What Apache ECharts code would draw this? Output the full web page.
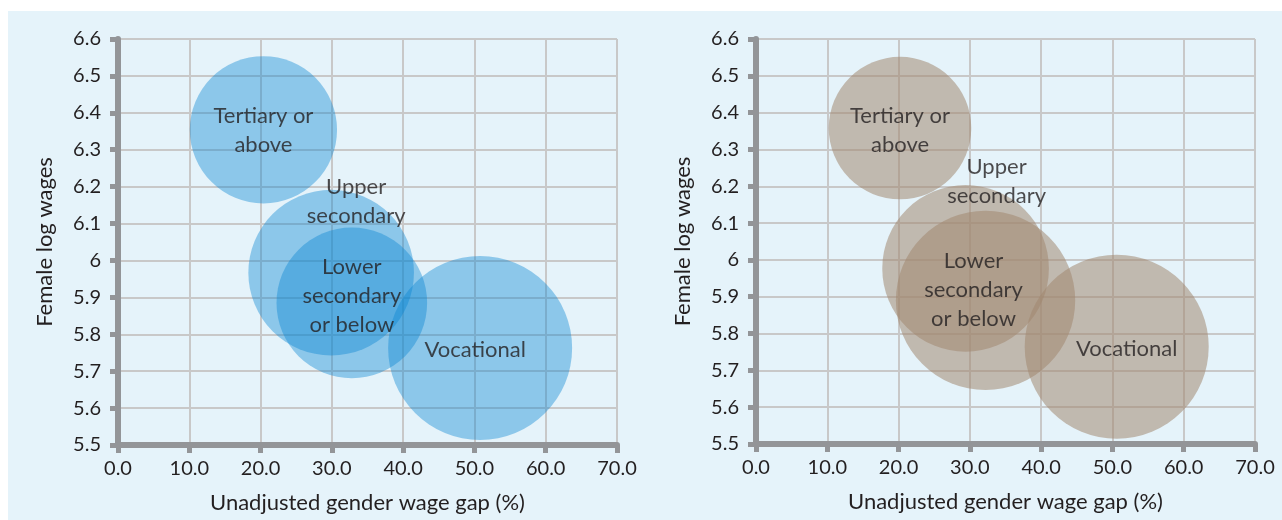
<!DOCTYPE html>
<html>
<head>
<meta charset="utf-8">
<script src="https://cdn.jsdelivr.net/npm/echarts@6/dist/echarts.min.js"></script>
<style>
  html, body { margin: 0; padding: 0; background: #ffffff; }
  #chart { width: 1282px; height: 520px; }
</style>
</head>
<body>
<div id="chart"></div>
<script>
// 数据
const categories = ['Tertiary or\nabove', 'Upper\nsecondary', 'Lower\nsecondary\nor below', 'Vocational'];
// left panel
const leftGap = [20.4, 29.9, 32.8, 50.8];
const leftWage = [6.354, 5.967, 5.885, 5.763];
const leftSize = [64, 81, 67, 100];
// right panel
const rightGap = [20.2, 29.4, 32.2, 50.6];
const rightWage = [6.358, 5.977, 5.89, 5.764];
const rightSize = [60, 82, 95, 100];
// axes
const xMin = 0, xMax = 70, xStep = 10;
const yMin = 5.5, yMax = 6.6, yStep = 0.1;
const xName = 'Unadjusted gender wage gap (%)';
const yName = 'Female log wages';

// label placement (style only)
const leftLabelOffset = [[0, 1], [25, -71], [0, -7], [-5, 2]];
const rightLabelOffset = [[0, 2], [31, -87], [-12, -11], [10, 2]];

const textColor = '#231f20';
const axisColor = '#939598';
const gridColor = '#c8c8c8';
const fontFamily = 'Lato';
const maxBubble = 184;

function buildData(gap, wage, size, offsets) {
  return categories.map(function (name, i) {
    return {
      name: name,
      value: [gap[i], wage[i], size[i]],
      label: { offset: offsets[i] }
    };
  });
}

function xAxis(gridIndex) {
  return {
    type: 'value',
    gridIndex: gridIndex,
    min: xMin,
    max: xMax,
    interval: xStep,
    name: xName,
    nameLocation: 'middle',
    nameGap: 47,
    nameTextStyle: { color: textColor, fontSize: 22, fontFamily: fontFamily },
    axisLine: { show: true, lineStyle: { color: axisColor, width: 6 } },
    axisTick: { show: true, length: 8, lineStyle: { color: axisColor, width: 5 } },
    axisLabel: {
      color: textColor, fontSize: 20, fontFamily: fontFamily, margin: 14,
      formatter: function (v) { return v.toFixed(1); }
    },
    splitLine: { show: true, lineStyle: { color: gridColor, width: 2 } }
  };
}

function yAxis(gridIndex) {
  return {
    type: 'value',
    gridIndex: gridIndex,
    min: yMin,
    max: yMax,
    interval: yStep,
    name: yName,
    nameLocation: 'middle',
    nameGap: 62,
    nameTextStyle: { color: textColor, fontSize: 22, fontFamily: fontFamily },
    axisLine: { show: true, lineStyle: { color: axisColor, width: 6 } },
    axisTick: { show: true, length: 8, lineStyle: { color: axisColor, width: 5 } },
    axisLabel: {
      color: textColor, fontSize: 20, fontFamily: fontFamily, margin: 17,
      formatter: function (v) { return String(Math.round(v * 10) / 10); }
    },
    splitLine: { show: true, lineStyle: { color: gridColor, width: 2 } }
  };
}

function bubbleSeries(idx, data, color) {
  return {
    type: 'scatter',
    xAxisIndex: idx,
    yAxisIndex: idx,
    data: data,
    symbol: 'circle',
    symbolSize: function (v) { return maxBubble * Math.sqrt(v[2] / 100); },
    itemStyle: { color: color, borderWidth: 0 },
    label: {
      show: true,
      position: 'inside',
      formatter: '{b}',
      color: textColor,
      fontSize: 22,
      lineHeight: 29,
      fontFamily: fontFamily,
      align: 'center'
    },
    emphasis: { disabled: true },
    animation: false
  };
}

const chart = echarts.init(document.getElementById('chart'));
let option = {
  animation: false,
  graphic: [{
    type: 'rect',
    z: -10,
    shape: { x: 8, y: 11, width: 1274, height: 509 },
    style: { fill: '#e5f3fa' },
    silent: true
  }],
  grid: [
    { left: 118, top: 39, width: 499, height: 406, outerBoundsMode: 'none' },
    { left: 756, top: 39, width: 499, height: 405, outerBoundsMode: 'none' }
  ],
  xAxis: [xAxis(0), xAxis(1)],
  yAxis: [yAxis(0), yAxis(1)],
  series: [
    bubbleSeries(0, buildData(leftGap, leftWage, leftSize, leftLabelOffset), 'rgba(8,132,210,0.5)'),
    bubbleSeries(1, buildData(rightGap, rightWage, rightSize, rightLabelOffset), 'rgba(160,134,110,0.68)')
  ]
};

chart.setOption(option);
window.addEventListener('resize', function () {
  chart.resize();
});
</script>
</body>
</html>
